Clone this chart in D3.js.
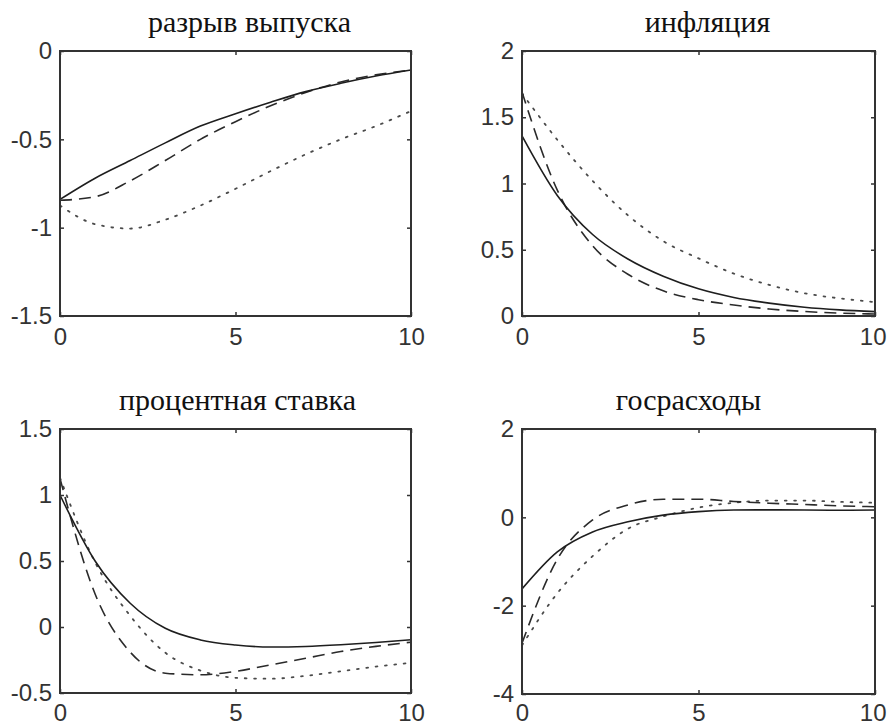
<!DOCTYPE html>
<html>
<head>
<meta charset="utf-8">
<script src="https://cdn.jsdelivr.net/npm/d3@7"></script>
<style>
  html, body { margin: 0; padding: 0; background: #fff; }
  svg { display: block; }
  .tick-label { font-family: "Liberation Sans", Arial, sans-serif; font-size: 24px; fill: #333; }
  .title { font-family: "Liberation Serif", "Times New Roman", serif; font-size: 30px; fill: #111; }
</style>
</head>
<body>
<svg id="chart" width="887" height="725"></svg>
<script>
// quarters after the shock
const steps = [0, 1, 2, 3, 4, 5, 6, 7, 8, 9, 10];

const gapSolid = [-0.84, -0.72, -0.62, -0.52, -0.425, -0.355, -0.29, -0.23, -0.183, -0.142, -0.108];
const gapDashed = [-0.845, -0.825, -0.735, -0.62, -0.5, -0.4, -0.31, -0.235, -0.175, -0.135, -0.108];
const gapDotted = [-0.875, -0.98, -1.005, -0.955, -0.875, -0.78, -0.68, -0.585, -0.5, -0.425, -0.34];

const inflSolid = [1.36, 0.91, 0.615, 0.43, 0.3, 0.205, 0.14, 0.097, 0.066, 0.046, 0.033];
const inflDashed = [1.69, 0.95, 0.53, 0.315, 0.19, 0.123, 0.083, 0.053, 0.034, 0.022, 0.015];
const inflDotted = [1.68, 1.33, 1.02, 0.76, 0.565, 0.435, 0.32, 0.235, 0.172, 0.133, 0.105];

const rateSolid = [1.0, 0.5, 0.18, -0.01, -0.098, -0.136, -0.152, -0.148, -0.135, -0.117, -0.097];
const rateDashed = [1.125, 0.25, -0.19, -0.35, -0.362, -0.336, -0.287, -0.237, -0.186, -0.147, -0.115];
const rateDotted = [1.13, 0.49, 0.085, -0.195, -0.33, -0.385, -0.392, -0.37, -0.335, -0.3, -0.272];

const govSolid = [-1.62, -0.78, -0.33, -0.1, 0.05, 0.13, 0.165, 0.17, 0.165, 0.16, 0.165];
const govDashed = [-2.85, -0.95, -0.06, 0.28, 0.41, 0.41, 0.36, 0.32, 0.29, 0.26, 0.24];
const govDotted = [-2.9, -1.72, -0.88, -0.26, 0.02, 0.22, 0.33, 0.38, 0.38, 0.35, 0.33];

const titles = ['разрыв выпуска', 'инфляция', 'процентная ставка', 'госрасходы'];

const xTicks = [0, 5, 10];
const xTickLabels = ['0', '5', '10'];

const gapTicks = [-1.5, -1, -0.5, 0];
const gapTickLabels = ['-1.5', '-1', '-0.5', '0'];
const inflTicks = [0, 0.5, 1, 1.5, 2];
const inflTickLabels = ['0', '0.5', '1', '1.5', '2'];
const rateTicks = [-0.5, 0, 0.5, 1, 1.5];
const rateTickLabels = ['-0.5', '0', '0.5', '1', '1.5'];
const govTicks = [-4, -2, 0, 2];
const govTickLabels = ['-4', '-2', '0', '2'];

const TICK = 4;
const WIDTH = 887;

const lineStyles = {
  solid: { dash: null, color: '#1e1e1e', width: 1.6 },
  dashed: { dash: '12,7', color: '#2a2a2a', width: 1.6 },
  dotted: { dash: '1.8,7.6', color: '#4a4a4a', width: 1.8 },
};

const panels = [
  {
    title: titles[0], box: [60, 51, 411, 316], titleShift: 14, labelPad: 12,
    ticks: gapTicks, labels: gapTickLabels,
    series: { solid: gapSolid, dashed: gapDashed, dotted: gapDotted },
  },
  {
    title: titles[1], box: [522, 51, 875, 316], titleShift: 9, labelPad: 12,
    ticks: inflTicks, labels: inflTickLabels,
    series: { solid: inflSolid, dashed: inflDashed, dotted: inflDotted },
  },
  {
    title: titles[2], box: [60, 429, 411, 693], titleShift: 2, labelPad: 11,
    ticks: rateTicks, labels: rateTickLabels,
    series: { solid: rateSolid, dashed: rateDashed, dotted: rateDotted },
  },
  {
    title: titles[3], box: [522, 429, 875, 694], titleShift: -10, labelPad: 10,
    ticks: govTicks, labels: govTickLabels,
    series: { solid: govSolid, dashed: govDashed, dotted: govDotted },
  },
];

const svg = d3.select('#chart');
svg.append('rect').attr('width', WIDTH).attr('height', 725).attr('fill', '#fff');

panels.forEach(drawPanel);

function drawPanel(panel) {
  const [x0, y0, x1, y1] = panel.box;
  const ticks = panel.ticks;

  const x = d3.scaleLinear().domain([0, 10]).range([x0, x1]);
  const y = d3.scaleLinear().domain([ticks[0], ticks[ticks.length - 1]]).range([y1, y0]);

  const g = svg.append('g');

  const line = d3.line()
    .x((d) => x(d[0]))
    .y((d) => y(d[1]))
    .curve(d3.curveMonotoneX);

  // dotted first so the solid line sits on top
  ['dotted', 'dashed', 'solid'].forEach((key) => {
    const style = lineStyles[key];
    const points = steps.map((s, i) => [s, panel.series[key][i]]);
    g.append('path')
      .datum(points)
      .attr('d', line)
      .attr('fill', 'none')
      .attr('stroke', style.color)
      .attr('stroke-width', style.width)
      .attr('stroke-dasharray', style.dash)
      .attr('stroke-linecap', key === 'dotted' ? 'round' : 'butt');
  });

  const yLabel = (d) => panel.labels[ticks.indexOf(d)];
  const xLabel = (d) => xTickLabels[xTicks.indexOf(d)];

  const left = g.append('g')
    .attr('transform', `translate(${x0},0)`)
    .call(d3.axisLeft(y).tickValues(ticks).tickFormat(yLabel).tickSize(-TICK).tickPadding(8));
  const right = g.append('g')
    .attr('transform', `translate(${x1},0)`)
    .call(d3.axisRight(y).tickValues(ticks).tickFormat('').tickSize(-TICK));
  const bottom = g.append('g')
    .attr('transform', `translate(0,${y1})`)
    .call(d3.axisBottom(x).tickValues(xTicks).tickFormat(xLabel).tickSize(-TICK).tickPadding(panel.labelPad));
  const top = g.append('g')
    .attr('transform', `translate(0,${y0})`)
    .call(d3.axisTop(x).tickValues(xTicks).tickFormat('').tickSize(-TICK));

  [left, right, bottom, top].forEach((axis) => {
    axis.select('.domain').remove();
    axis.selectAll('line').attr('stroke', '#333').attr('stroke-width', 1.5);
    axis.selectAll('text').attr('class', 'tick-label').attr('fill', null).attr('font-size', null).attr('font-family', null);
  });
  bottom.selectAll('text').attr('dy', '0.71em');

  // keep labels near the window's right edge inside it
  bottom.selectAll('text').each(function () {
    const box = this.getBBox();
    const tickX = x(xTicks[xTickLabels.indexOf(this.textContent)]);
    const overflow = tickX + box.x + box.width - (WIDTH - 1);
    if (overflow > 0) {
      d3.select(this).attr('x', -overflow);
    }
  });

  g.append('rect')
    .attr('x', x0)
    .attr('y', y0)
    .attr('width', x1 - x0)
    .attr('height', y1 - y0)
    .attr('fill', 'none')
    .attr('stroke', '#333')
    .attr('stroke-width', 2);

  g.append('text')
    .attr('class', 'title')
    .attr('x', (x0 + x1) / 2 + panel.titleShift)
    .attr('y', y0 - 19)
    .attr('text-anchor', 'middle')
    .text(panel.title);
}
</script>
</body>
</html>
